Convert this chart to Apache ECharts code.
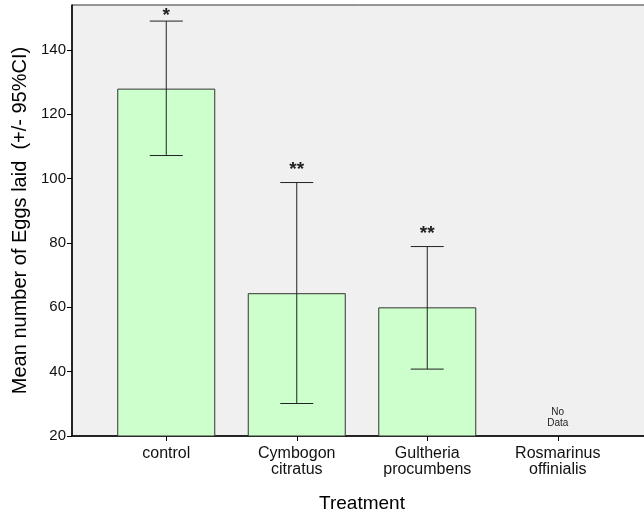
<!DOCTYPE html>
<html>
<head>
<meta charset="utf-8">
<script src="https://cdn.jsdelivr.net/npm/echarts@6/dist/echarts.min.js"></script>
<style>html,body{margin:0;padding:0;background:#fff}#c{width:644px;height:517px}</style>
</head>
<body>
<div id="c"></div>
<script>
var categories = ['control', 'Cymbogon\ncitratus', 'Gultheria\nprocumbens', 'Rosmarinus\noffinialis'];
var means = [128, 64.4, 60, null];
var ciLow = [107.2, 30.1, 40.8, null];
var ciHigh = [149, 98.8, 78.9, null];
var marks = ['*', '**', '**', ''];
var yTicks = [20, 40, 60, 80, 100, 120, 140];
var noDataIndex = 3;

var chart = echarts.init(document.getElementById('c'));
var font = 'Liberation Sans, Arial, sans-serif';

var errData = categories.map(function (c, i) {
  return ciLow[i] == null ? null : [i, ciLow[i], ciHigh[i]];
}).filter(function (d) { return d; });

chart.setOption({
  animation: false,
  textStyle: { fontFamily: font },
  grid: [
    { left: 72, right: -2, top: 5, bottom: 81, show: true, backgroundColor: '#f0f0f0', borderColor: '#333', borderWidth: 1, outerBoundsMode: 'none', containLabel: false },
    { left: 101, right: 21, top: 5, bottom: 81, outerBoundsMode: 'none', containLabel: false }
  ],
  xAxis: [
    { gridIndex: 0, type: 'value', min: 0, max: 1,
      axisLine: { show: true, onZero: false, lineStyle: { color: '#000', width: 1.5 } },
      axisTick: { show: false }, axisLabel: { show: false }, splitLine: { show: false } },
    { gridIndex: 1, type: 'category', data: categories,
      axisLine: { show: false },
      axisTick: { show: true, alignWithLabel: true, length: 5, lineStyle: { color: '#000' } },
      axisLabel: { color: '#111', fontSize: 16, fontFamily: font, lineHeight: 16, margin: 10 },
      name: 'Treatment', nameLocation: 'middle', nameGap: 58,
      nameTextStyle: { color: '#000', fontSize: 19, fontFamily: font } }
  ],
  yAxis: [
    { gridIndex: 0, type: 'value', min: 20, max: 154, interval: 20,
      axisLine: { show: true, lineStyle: { color: '#000', width: 1.5 } },
      axisTick: { show: true, length: 5, customValues: yTicks, lineStyle: { color: '#000' } },
      axisLabel: { color: '#111', fontSize: 15, fontFamily: font, margin: 6, customValues: yTicks },
      splitLine: { show: false },
      name: 'Mean number of Eggs laid  (+/- 95%CI)', nameLocation: 'middle', nameGap: 42,
      nameTextStyle: { color: '#000', fontSize: 20, fontFamily: font } },
    { gridIndex: 1, type: 'value', min: 20, max: 154, show: false, splitLine: { show: false } }
  ],
  series: [
    { type: 'bar', xAxisIndex: 1, yAxisIndex: 1, data: means, barWidth: 98,
      itemStyle: { color: '#ccffcc', borderColor: '#333', borderWidth: 1 } },
    { type: 'custom', xAxisIndex: 1, yAxisIndex: 1, data: errData, z: 5,
      renderItem: function (params, api) {
        var x = api.value(0);
        var lo = api.coord([x, api.value(1)]);
        var hi = api.coord([x, api.value(2)]);
        var hw = 16.5;
        var st = { stroke: '#222', lineWidth: 1 };
        var ty = Math.max(hi[1] - 3, params.coordSys.y + 20);
        return { type: 'group', children: [
          { type: 'line', shape: { x1: lo[0], y1: lo[1], x2: hi[0], y2: hi[1] }, style: st },
          { type: 'line', shape: { x1: lo[0] - hw, y1: lo[1], x2: lo[0] + hw, y2: lo[1] }, style: st },
          { type: 'line', shape: { x1: hi[0] - hw, y1: hi[1], x2: hi[0] + hw, y2: hi[1] }, style: st },
          { type: 'text', style: { x: hi[0], y: ty, text: marks[x], fill: '#222', font: 'bold 19px ' + font, textAlign: 'center', textVerticalAlign: 'bottom' } }
        ] };
      } },
    { type: 'custom', xAxisIndex: 1, yAxisIndex: 1, data: [[noDataIndex, 20]], z: 5,
      renderItem: function (params, api) {
        var p = api.coord([api.value(0), api.value(1)]);
        return { type: 'text', style: { x: p[0], y: p[1] - 7, text: 'No\nData', fill: '#222', font: '10px ' + font, lineHeight: 11, textAlign: 'center', textVerticalAlign: 'bottom' } };
      } }
  ]
});
</script>
</body>
</html>
